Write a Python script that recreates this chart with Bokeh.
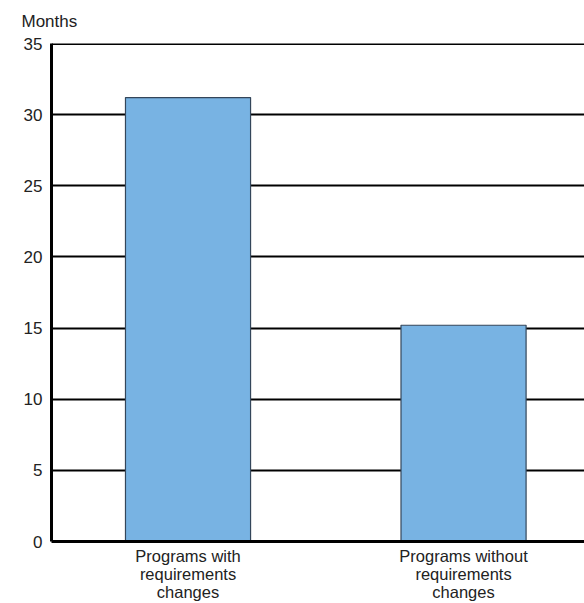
from bokeh.plotting import figure
from bokeh.models import ColumnDataSource, Range1d, FixedTicker, Span
from bokeh.embed import file_html
from bokeh.resources import INLINE

# Average program length in months
categories = ["Programs with\nrequirements\nchanges", "Programs without\nrequirements\nchanges"]
months = [31.2, 15.2]
y_ticks = [0, 5, 10, 15, 20, 25, 30, 35]

positions = list(range(1, len(categories) + 1))
source = ColumnDataSource(dict(x=positions, top=months))

FONT = "Liberation Sans"

p = figure(
    width=584, height=603,
    output_backend="svg", toolbar_location=None,
    x_range=Range1d(0.5045, 2.439), y_range=Range1d(0, 35),
    min_border_left=51, min_border_right=0,
    min_border_top=43, min_border_bottom=61,
)
p.outline_line_color = None
p.background_fill_color = "white"
p.border_fill_color = "white"

# Horizontal grid lines in black, drawn behind the bars
p.xgrid.grid_line_color = None
p.ygrid.ticker = FixedTicker(ticks=y_ticks[:-1])
p.ygrid.grid_line_color = "black"
p.ygrid.grid_line_width = 2

p.vbar(x="x", top="top", width=0.454, bottom=0, source=source,
       fill_color="#78b3e3", line_color="#34465a", line_width=1.2)

# Heavier rule at the top of the scale
p.add_layout(Span(location=35, dimension="width", line_color="black", line_width=3))

# Y axis
p.yaxis.ticker = FixedTicker(ticks=y_ticks)
p.yaxis.axis_line_width = 3
p.yaxis.axis_line_color = "black"
p.yaxis.major_tick_line_color = None
p.yaxis.major_tick_out = 0
p.yaxis.major_tick_in = 0
p.yaxis.minor_tick_line_color = None
p.yaxis.major_label_standoff = 9
p.yaxis.major_label_text_font = FONT
p.yaxis.major_label_text_font_size = "17px"
p.yaxis.major_label_text_color = "#222222"

# X axis with multi-line category labels
p.xaxis.ticker = FixedTicker(ticks=positions)
p.xaxis.major_label_overrides = {pos: lab for pos, lab in zip(positions, categories)}
p.xaxis.axis_line_width = 3
p.xaxis.axis_line_color = "black"
p.xaxis.major_tick_line_color = None
p.xaxis.major_tick_out = 0
p.xaxis.major_tick_in = 0
p.xaxis.minor_tick_line_color = None
p.xaxis.major_label_standoff = 5
p.xaxis.major_label_text_font = FONT
p.xaxis.major_label_text_font_size = "16.5px"
p.xaxis.major_label_text_color = "#222222"
p.xaxis.major_label_text_line_height = 1.0

# Unit label above the value axis
p.title.text = "Months"
p.title.align = "left"
p.title.vertical_align = "top"
p.title.offset = -30
p.title.text_font = FONT
p.title.text_font_size = "17px"
p.title.text_font_style = "normal"
p.title.text_color = "#222222"
p.title.standoff = 21

open("out.html", "w").write(file_html(p, INLINE))
